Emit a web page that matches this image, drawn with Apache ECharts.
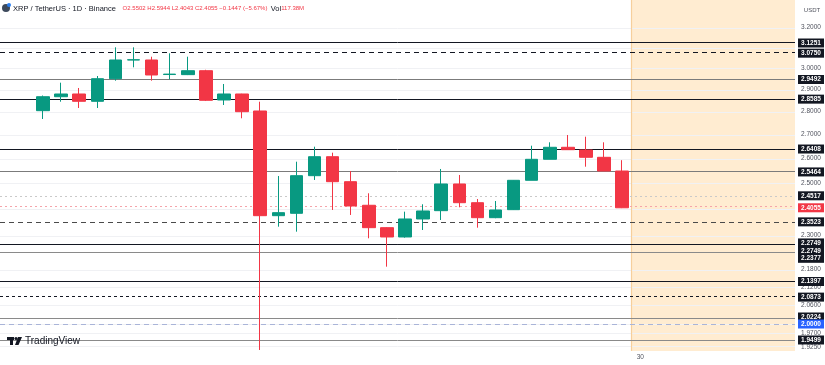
<!DOCTYPE html>
<html>
<head>
<meta charset="utf-8">
<script src="https://cdn.jsdelivr.net/npm/echarts@6/dist/echarts.min.js"></script>
<style>
html,body{margin:0;padding:0;background:#fff;}
#c{width:825px;height:365px;}
</style>
</head>
<body>
<div id="c"></div>
<script>
// ---- data ----
const candleIndex = [0,1,2,3,4,5,6,7,8,9,10,11,12,13,14,15,16,17,18,19,20,21,22,23,24,25,26,27,28,29,30,31,32];
const openV  = [2.8066,2.8696,2.8820,2.8487,2.9528,3.0419,3.0419,2.9725,2.9720,2.9906,2.8547,2.8820,2.8052,2.3755,2.3845,2.5313,2.6088,2.5073,2.4151,2.3307,2.2965,2.3631,2.3945,2.4982,2.4250,2.3680,2.3983,2.5128,2.5980,2.6481,2.6367,2.6063,2.5502];
const closeV = [2.8696,2.8820,2.8487,2.9528,3.0419,3.0430,2.9703,2.9745,2.9906,2.8533,2.8820,2.8021,2.3755,2.3869,2.5313,2.6088,2.5073,2.4124,2.3307,2.2965,2.3631,2.3933,2.4982,2.4250,2.3680,2.3971,2.5128,2.5980,2.6481,2.6380,2.6063,2.5502,2.4055];
const lowV   = [2.7698,2.8469,2.8186,2.8186,2.9435,3.0068,2.9435,2.9500,2.9700,2.8500,2.8321,2.7729,1.9192,2.3344,2.3159,2.5141,2.3971,2.3782,2.2917,2.1907,2.2940,2.3221,2.3593,2.4074,2.3307,2.3660,2.3970,2.5128,2.5980,2.6368,2.5677,2.5502,2.4043];
const highV  = [2.8750,2.9342,2.9096,2.9655,3.1038,3.1038,3.0578,3.0744,3.0578,2.9950,2.9281,2.8830,2.8469,2.5301,2.5882,2.6506,2.6255,2.5502,2.4615,2.3320,2.3907,2.4189,2.5584,2.5341,2.4393,2.4316,2.5140,2.6548,2.6691,2.7003,2.6930,2.6691,2.5944];

const levelValues = [3.1251,3.0750,2.9492,2.8585,2.6408,2.5464,2.4517,2.4055,2.3523,2.2749,2.2749,2.2377,2.1397,2.0873,2.0224,2.0000,1.9499];
const levelLabels = ['3.1251','3.0750','2.9492','2.8585','2.6408','2.5464','2.4517','2.4055','2.3523','2.2749','2.2749','2.2377','2.1397','2.0873','2.0224','2.0000','1.9499'];

const tickValues = [3.2,3.1,3.0,2.9,2.8,2.7,2.6,2.5,2.4,2.3,2.24,2.18,2.12,2.06,2.0,1.97,1.925];
const tickLabels = ['3.2000','','3.0000','2.9000','2.8000','2.7000','2.6000','2.5000','','2.3000','','2.1800','2.1200','2.0600','','1.9700','1.9250'];

const xTickIndex = [33];
const xTickLabels = ['30'];

const futureStart = 32.5;

const headerName = 'XRP / TetherUS · 1D · Binance';
const headerO = '2.5502', headerH = '2.5944', headerL = '2.4043', headerC = '2.4055';
const headerChg = '−0.1447 (−5.67%)';
const headerVol = '117.38M';
const currencyLabel = 'USDT';

// ---- styles (not data) ----
const UP = '#089981', DOWN = '#F23645';
const levelStyles = [
  {color:'#131722', type:'solid', box:'#131722'},
  {color:'#131722', type:[5,4], box:'#131722'},
  {color:'#7b7b7b', type:'solid', box:'#131722'},
  {color:'#131722', type:'solid', box:'#131722'},
  {color:'#131722', type:'solid', box:'#131722'},
  {color:'#7b7b7b', type:'solid', box:'#131722'},
  {color:'#c9c9c9', type:[2,3], box:'#131722'},
  {color:'#f5a3aa', type:[2,3], box:'#F23645'},
  {color:'#4a4a4a', type:[5,4], box:'#131722'},
  {color:'#131722', type:'solid', box:'#131722'},
  {color:'#131722', type:'solid', box:'#131722'},
  {color:'#8a8a8a', type:'solid', box:'#131722'},
  {color:'#131722', type:'solid', box:'#131722'},
  {color:'#131722', type:[3,3], box:'#131722'},
  {color:'#8a8a8a', type:'solid', box:'#131722'},
  {color:'#a9b4d8', type:[5,4], box:'#2962FF'},
  {color:'#8a8a8a', type:'solid', box:'#131722'}
];
const labelShift = [0,0,0,0,0,0,0,0,0,0,8,5,0,0,0,0,0];

const chart = echarts.init(document.getElementById('c'), null, {renderer:'canvas'});

const candleData = candleIndex.map((x, i) => [x, openV[i], closeV[i], lowV[i], highV[i]]);

const GRID = {left:0, right:30, top:0, bottom:14};

chart.setOption({
  animation:false,
  backgroundColor:'#ffffff',
  grid: GRID,
  xAxis: {type:'value', min:-2.376, max:41.55, axisLine:{show:false}, axisTick:{show:false}, axisLabel:{show:false}, splitLine:{show:false}},
  yAxis: {type:'log', logBase:10, min:1.9161, max:3.346, axisLine:{show:false}, axisTick:{show:false}, axisLabel:{show:false}, splitLine:{show:false}},
  series: [
    {
      type:'line', data:[], silent:true, z:1,
      markArea: {silent:true, itemStyle:{color:'rgba(255,152,0,0.18)'}, data:[[{xAxis:futureStart},{xAxis:41.55}]]},
      markLine: {silent:true, symbol:'none', label:{show:false},
        data: tickValues.map(v => ({yAxis:v, lineStyle:{color:'#f0f1f4', width:1, type:'solid'}}))
          .concat([{xAxis:futureStart, lineStyle:{color:'#f6cf9c', width:1.2, type:'solid'}}])
      }
    },
    {
      type:'line', data:[], silent:true, z:3,
      markLine: {silent:true, symbol:'none', label:{show:false},
        data: levelValues.map((v, i) => ({yAxis:v, lineStyle:{color:levelStyles[i].color, width:1, type:levelStyles[i].type}}))
      }
    },
    {
      type:'candlestick', z:5,
      barWidth:13,
      data: candleData,
      itemStyle: {color:UP, color0:DOWN, borderColor:UP, borderColor0:DOWN, borderWidth:1}
    }
  ]
});

// ---- overlay texts positioned through the library's scales ----
const g = [];
const font = '"Liberation Sans", Arial, sans-serif';
tickValues.forEach((v, i) => {
  if (!tickLabels[i]) return;
  const y = chart.convertToPixel({yAxisIndex:0}, v);
  g.push({type:'text', left:801, top:y-4, z:10, style:{text:tickLabels[i], fill:'#50535e', font:'6.5px '+font}});
});
levelValues.forEach((v, i) => {
  const y = chart.convertToPixel({yAxisIndex:0}, v) + labelShift[i];
  g.push({type:'rect', shape:{x:798, y:y-4.5, width:26, height:9}, style:{fill:levelStyles[i].box}, z:20});
  g.push({type:'text', x:811, y:y, z:21, style:{text:levelLabels[i], fill:'#ffffff', font:'bold 6.5px '+font, textAlign:'center', textVerticalAlign:'middle'}});
});
xTickIndex.forEach((x, i) => {
  const px = chart.convertToPixel({xAxisIndex:0}, x);
  g.push({type:'text', x:px, y:357, z:10, style:{text:xTickLabels[i], fill:'#50535e', font:'6.5px '+font, textAlign:'center', textVerticalAlign:'middle'}});
});
g.push({type:'text', x:812, y:10, z:10, style:{text:currencyLabel, fill:'#50535e', font:'6px '+font, textAlign:'center', textVerticalAlign:'middle'}});
// header
g.push({type:'circle', shape:{cx:6, cy:8, r:4}, style:{fill:'#3d4a5c'}, z:10});
g.push({type:'circle', shape:{cx:9, cy:5, r:2}, style:{fill:'#2a7ff0'}, z:11});
g.push({type:'text', x:13, y:8.5, z:10, style:{
  text:'{n|'+headerName+'}  {r|O'+headerO+' H'+headerH+' L'+headerL+' C'+headerC+' '+headerChg+'} {n|Vol}{r|'+headerVol+'}',
  textVerticalAlign:'middle',
  rich:{n:{fill:'#131722', font:'7.5px '+font}, r:{fill:'#F23645', font:'6px '+font}}
}});
// TradingView watermark
g.push({type:'rect', shape:{x:7, y:337, width:7, height:3}, style:{fill:'#131722'}, z:10});
g.push({type:'rect', shape:{x:10, y:337, width:3, height:8}, style:{fill:'#131722'}, z:10});
g.push({type:'circle', shape:{cx:16, cy:338.5, r:1.6}, style:{fill:'#131722'}, z:10});
g.push({type:'polygon', shape:{points:[[18,337],[22,337],[18.5,345],[15,345]]}, style:{fill:'#131722'}, z:10});
g.push({type:'text', x:25, y:341, z:10, style:{text:'TradingView', fill:'#131722', font:'500 10px '+font, textVerticalAlign:'middle'}});

chart.setOption({graphic:g});
</script>
</body>
</html>
